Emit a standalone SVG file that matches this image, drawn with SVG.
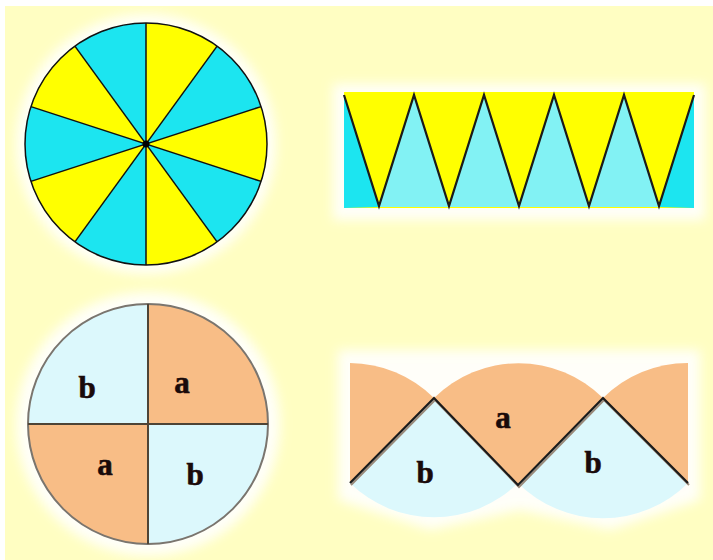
<svg xmlns="http://www.w3.org/2000/svg" width="713" height="560" viewBox="0 0 713 560">
<style>
.lbl{font-family:"Liberation Serif","Times New Roman",serif;font-weight:bold;font-size:31px;fill:#1a0a0a;text-anchor:middle;stroke:#1a0a0a;stroke-width:0.6}
.edge{stroke:#111;stroke-width:1.5;fill:none}
.zig{stroke:#1a1a1a;stroke-width:2.2;fill:none;stroke-linejoin:miter}
.orange{fill:#F8BD86}
.pale{fill:#DCF8FC}
</style>
<defs>
<filter id="blur" x="-20%" y="-20%" width="140%" height="140%"><feGaussianBlur stdDeviation="6"/></filter>
</defs>
<rect x="0" y="0" width="713" height="560" fill="#FFFEC2"/>
<rect x="0" y="0" width="713" height="6" fill="#FFFFFF"/>
<rect x="0" y="0" width="5" height="560" fill="#FFFFFF"/>
<g id="halos" filter="url(#blur)" fill="#FFFFFF" opacity="0.9">
<circle cx="146" cy="144" r="130"/>
<rect x="333" y="84" width="372" height="136"/>
<circle cx="148" cy="424" r="132"/>
<path d="M338 350 L700 350 L700 500 L610 530 L520 510 L430 530 L338 500 Z"/>
</g>
<g id="circle-sectors">
<circle cx="146" cy="144" r="121" fill="#1CE5F0"/>
<g fill="#FFFF00">
<path d="M146 144 L146 23 A121 121 0 0 1 217.1 46.1 Z"/>
<path d="M146 144 L261.1 106.6 A121 121 0 0 1 261.1 181.4 Z"/>
<path d="M146 144 L217.1 241.9 A121 121 0 0 1 146 265 Z"/>
<path d="M146 144 L74.9 241.9 A121 121 0 0 1 30.9 181.4 Z"/>
<path d="M146 144 L30.9 106.6 A121 121 0 0 1 74.9 46.1 Z"/>
</g>
<g class="edge">
<line x1="146" y1="23" x2="146" y2="265"/>
<line x1="217.1" y1="46.1" x2="74.9" y2="241.9"/>
<line x1="261.1" y1="106.6" x2="30.9" y2="181.4"/>
<line x1="261.1" y1="181.4" x2="30.9" y2="106.6"/>
<line x1="217.1" y1="241.9" x2="74.9" y2="46.1"/>
<circle cx="146" cy="144" r="121"/>
</g>
<circle cx="146" cy="144" r="3.5" fill="#000"/>
</g>
<g id="strip-sectors">
<rect x="344" y="92" width="350" height="116" fill="#FFFF00"/>
<path d="M344 95 L379 207 L344 208 Z" fill="#1CE5F0"/>
<path d="M659 207 L694 95 L694 208 Z" fill="#1CE5F0"/>
<g fill="#82F2F4">
<path d="M379 207 L414 95 L449 207 Z"/>
<path d="M449 207 L484 95 L519 207 Z"/>
<path d="M519 207 L554 95 L589 207 Z"/>
<path d="M589 207 L624 95 L659 207 Z"/>
</g>
<polyline class="zig" points="344,95 379,206 414,95 449,206 484,95 519,206 554,95 589,206 624,95 659,206 694,95"/>
</g>
<g id="circle-ab">
<path class="pale" d="M148 424 L28 424 A120 120 0 0 1 148 304 Z"/>
<path class="orange" d="M148 424 L148 304 A120 120 0 0 1 268 424 Z"/>
<path class="pale" d="M148 424 L268 424 A120 120 0 0 1 148 544 Z"/>
<path class="orange" d="M148 424 L148 544 A120 120 0 0 1 28 424 Z"/>
<circle cx="148" cy="424" r="120" fill="none" stroke="#7a756e" stroke-width="2"/>
<line x1="148" y1="304" x2="148" y2="544" stroke="#4e4436" stroke-width="2"/>
<line x1="28" y1="424" x2="268" y2="424" stroke="#4e4436" stroke-width="2"/>
<text class="lbl" x="87" y="398">b</text>
<text class="lbl" x="182" y="393">a</text>
<text class="lbl" x="105" y="475">a</text>
<text class="lbl" x="195" y="485">b</text>
</g>
<g id="strip-ab">
<path class="pale" d="M434 398 L350 483 A120 120 0 0 0 518 483 Z"/>
<path class="pale" d="M603 398 L518 483 A120 120 0 0 0 688 483 Z"/>
<path class="orange" d="M350 483 L350 363 A120 120 0 0 1 434 398 Z"/>
<path class="orange" d="M518 484 L434 398 A120 120 0 0 1 603 398 Z"/>
<path class="orange" d="M688 483 L603 398 A120 120 0 0 1 688 363 Z"/>
<polyline points="351,485 435,400 519,487 604,400 689,485" fill="none" stroke="#9a8a7a" stroke-width="2"/>
<polyline class="zig" points="350,483 434,398 518,485 603,398 688,483"/>
<text class="lbl" x="503" y="428">a</text>
<text class="lbl" x="425" y="483">b</text>
<text class="lbl" x="593" y="473">b</text>
</g>
</svg>
